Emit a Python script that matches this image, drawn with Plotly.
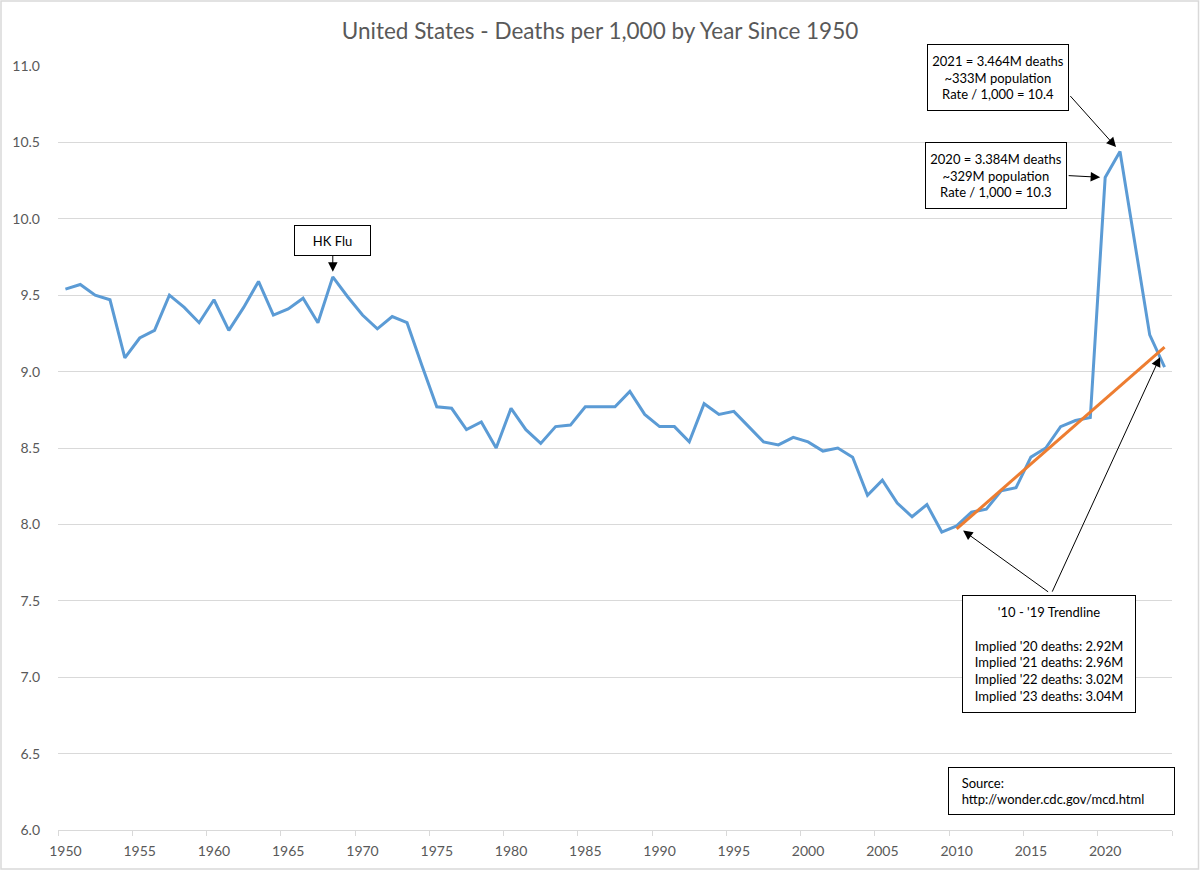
import plotly.graph_objects as go

# ---------------- data ----------------
years = list(range(1950, 2025))
rates = [
    9.54, 9.57, 9.50, 9.47, 9.09, 9.22, 9.27, 9.50, 9.42, 9.32,   # 1950-1959
    9.47, 9.27, 9.42, 9.59, 9.37, 9.41, 9.48, 9.32, 9.62, 9.49,   # 1960-1969
    9.37, 9.28, 9.36, 9.32, 9.04, 8.77, 8.76, 8.62, 8.67, 8.50,   # 1970-1979
    8.76, 8.62, 8.53, 8.64, 8.65, 8.77, 8.77, 8.77, 8.87, 8.72,   # 1980-1989
    8.64, 8.64, 8.54, 8.79, 8.72, 8.74, 8.64, 8.54, 8.52, 8.57,   # 1990-1999
    8.54, 8.48, 8.50, 8.44, 8.19, 8.29, 8.14, 8.05, 8.13, 7.95,   # 2000-2009
    7.99, 8.08, 8.10, 8.22, 8.24, 8.44, 8.50, 8.64, 8.68, 8.70,   # 2010-2019
    10.27, 10.44, 9.84, 9.24, 9.03,                               # 2020-2024
]

trend_years = [2010, 2024]
trend_values = [7.97, 9.16]

label_years = [1950, 1955, 1960, 1965, 1970, 1975, 1980, 1985, 1990, 1995, 2000, 2005, 2010, 2015, 2020]
y_ticks = [6.0, 6.5, 7.0, 7.5, 8.0, 8.5, 9.0, 9.5, 10.0, 10.5, 11.0]

title_text = "United States - Deaths per 1,000 by Year Since 1950"
hk_text = "HK Flu"
box2021_text = "2021 = 3.464M deaths<br>~333M population<br>Rate / 1,000 = 10.4"
box2020_text = "2020 = 3.384M deaths<br>~329M population<br>Rate / 1,000 = 10.3"
trend_text = ("'10 - '19 Trendline<br> <br>Implied '20 deaths: 2.92M<br>Implied '21 deaths: 2.96M"
              "<br>Implied '22 deaths: 3.02M<br>Implied '23 deaths: 3.04M")
source_text = "&nbsp;&nbsp;Source:<br>&nbsp;&nbsp;http://wonder.cdc.gov/mcd.html"

# ---------------- style ----------------
W, H = 1200, 871
ML, MR, MT, MB = 58, 28, 66, 41
FONT = "Lato"
GRID = "#d9d9d9"
TXT = "#595959"
BLUE = "#5b9bd5"
ORANGE = "#ed7d31"

fig = go.Figure()
fig.add_trace(go.Scatter(x=years, y=rates, mode="lines",
                         line=dict(color=BLUE, width=3), showlegend=False, hoverinfo="skip"))
fig.add_trace(go.Scatter(x=trend_years, y=trend_values, mode="lines",
                         line=dict(color=ORANGE, width=3), showlegend=False, hoverinfo="skip"))

ann_font = dict(family=FONT, size=13, color="black")
box = dict(bordercolor="black", borderwidth=1, bgcolor="white", borderpad=4, font=ann_font)
arrow = dict(showarrow=True, arrowhead=2, arrowsize=1.9, arrowwidth=1, arrowcolor="black", text="")

annotations = [
    # HK Flu box with arrow
    dict(x=years[18], y=rates[18], xref="x", yref="y", text=hk_text, ax=0, ay=-36,
         showarrow=True, arrowhead=2, arrowsize=1.9, arrowwidth=1, arrowcolor="black",
         standoff=5, width=67, height=21, **box),
    # 2021 box
    dict(x=2012.79, y=10.928, xref="x", yref="y", text=box2021_text, showarrow=False,
         width=132, height=57, **box),
    dict(x=years[71], y=rates[71], xref="x", yref="y", ax=-51, ay=-57, standoff=6, **arrow),
    # 2020 box
    dict(x=2012.68, y=10.285, xref="x", yref="y", text=box2020_text, showarrow=False,
         width=132, height=57, **box),
    dict(x=years[70], y=rates[70], xref="x", yref="y", ax=-38, ay=-2, standoff=5, **arrow),
    # trendline box
    dict(x=2016.25, y=7.152, xref="x", yref="y", text=trend_text, showarrow=False,
         width=164, height=108, **box),
    dict(x=trend_years[0], y=rates[60], xref="x", yref="y", ax=93, ay=67, standoff=8, **arrow),
    dict(x=trend_years[1], y=trend_values[1], xref="x", yref="y", ax=-113, ay=246, standoff=11, **arrow),
    # source box
    dict(x=2009.39, y=6.414, xref="x", yref="y", xanchor="left", yanchor="top",
         text=source_text, showarrow=False, align="left",
         bordercolor="black", borderwidth=1, bgcolor="white", borderpad=6,
         width=213, height=34, font=ann_font),
]

pw = W - ML - MR
ph = H - MT - MB
fig.update_layout(
    width=W, height=H,
    margin=dict(l=ML, r=MR, t=MT, b=MB, pad=0),
    paper_bgcolor="white", plot_bgcolor="white",
    title=dict(text=title_text, x=0.5, xref="container", xanchor="center",
               y=1 - 31 / H, yref="container", yanchor="middle",
               font=dict(family=FONT, size=22.5, color=TXT)),
    font=dict(family=FONT, color=TXT),
    xaxis=dict(range=[1949.5, 2024.5], tickmode="array", tickvals=label_years,
               ticktext=[str(v) for v in label_years], ticks="", showgrid=False,
               showline=True, linecolor=GRID, linewidth=1, zeroline=False,
               tickfont=dict(family=FONT, size=14, color=TXT), ticklabelstandoff=8,
               minor=dict(tickmode="linear", tick0=1949.5, dtick=5, ticks="outside",
                          ticklen=5, tickcolor=GRID, tickwidth=1, showgrid=False)),
    yaxis=dict(range=[6, 11], tickmode="array", tickvals=y_ticks,
               ticktext=[f"{v:.1f}" for v in y_ticks], ticks="", showgrid=True,
               gridcolor=GRID, gridwidth=1, zeroline=False, showline=False,
               tickfont=dict(family=FONT, size=14, color=TXT), ticklabelstandoff=17),
    annotations=annotations,
    shapes=[dict(type="rect", xref="paper", yref="paper",
                 x0=-(ML - 1) / pw, x1=1 + (MR - 1.5) / pw,
                 y0=-(MB - 2) / ph, y1=1 + (MT - 1) / ph,
                 line=dict(color=GRID, width=1.5), layer="below")],
)

fig.write_html("out.html", config={"displayModeBar": False},
               post_script="document.body.style.margin='0';document.body.style.overflow='hidden';")
